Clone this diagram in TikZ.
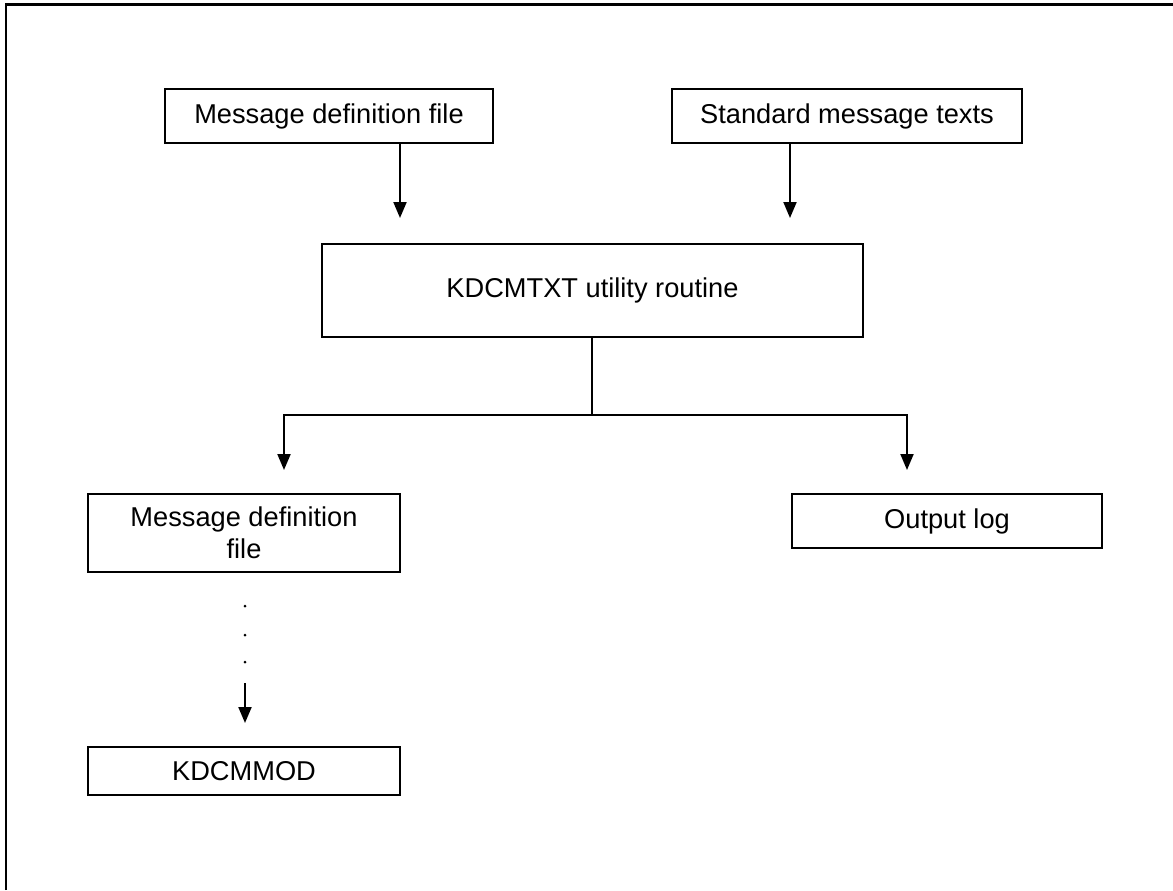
\documentclass[tikz,border=0pt]{standalone}
\usepackage{fontspec}
\setmainfont{Liberation Sans}
\usetikzlibrary{positioning,arrows.meta}

\tikzset{
  stepbox/.style={draw,line width=0.04cm,inner sep=0pt,align=center,
    font=\fontsize{15.5}{18.5}\selectfont},
  arr/.style={line width=0.04cm,-{Triangle[length=0.32cm,width=0.26cm]}},
  link/.style={line width=0.04cm}
}

\begin{document}
\begin{tikzpicture}[x=0.02cm,y=-0.02cm]

 \useasboundingbox (0,0) rectangle (1173,890);

 % frame
 \draw[line width=0.06cm] (6,890) -- (6,4) -- (1173,4);

 % boxes
 \node[stepbox,minimum width=328*0.02cm,minimum height=54*0.02cm] (msgdef) at (329,116) {Message definition file};
 \node[stepbox,minimum width=350*0.02cm,minimum height=54*0.02cm] (stdtxt) at (847,116) {Standard message texts};
 \node[stepbox,minimum width=541*0.02cm,minimum height=93*0.02cm] (util) at (592.5,290.5) {KDCMTXT utility routine};
 \node[stepbox,minimum width=312*0.02cm,minimum height=78*0.02cm] (msgout) at (244,533) {Message definition\\file};
 \node[stepbox,minimum width=310*0.02cm,minimum height=54*0.02cm] (outlog) at (947,521) {Output log};
 \node[stepbox,minimum width=312*0.02cm,minimum height=48*0.02cm] (kdcmmod) at (244,771) {KDCMMOD};

 % free ends
 \coordinate (inA) at (400,218);
 \coordinate (inB) at (790,218);
 \coordinate (split) at (592,415);
 \coordinate (outA) at (284,470);
 \coordinate (outB) at (907,470);
 \coordinate (dotend) at (245,683);
 \coordinate (modin) at (245,723);

 \draw[arr] (msgdef.south -| inA) -- (inA);
 \draw[arr] (stdtxt.south -| inB) -- (inB);
 \draw[link] (util.south -| split) -- (split);
 \draw[arr] (split) -| (outA);
 \draw[arr] (split) -| (outB);

 \foreach \y in {606,635,662}
   \fill (245,\y) circle (0.03cm);
 \draw[arr] (dotend) -- (modin);

\end{tikzpicture}
\end{document}
